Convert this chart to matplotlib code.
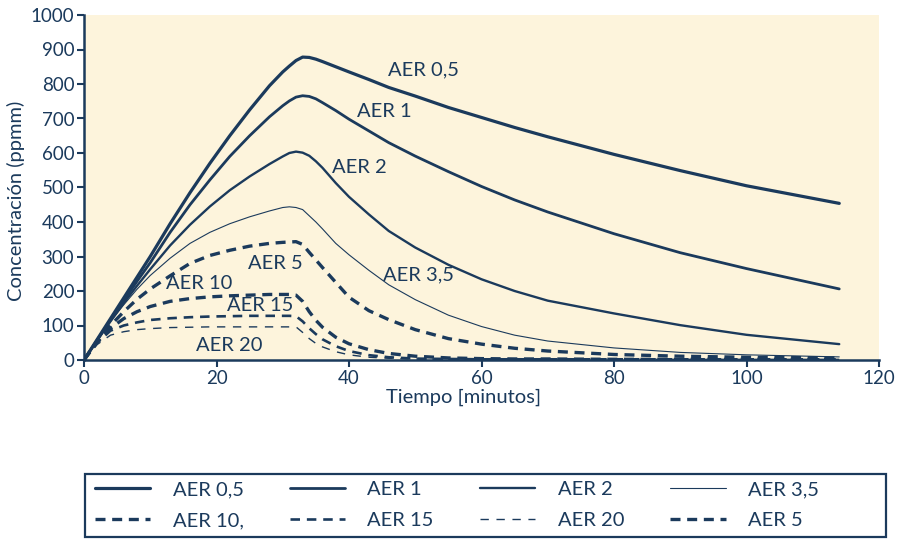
import matplotlib
matplotlib.use("Agg")
import matplotlib.pyplot as plt
from matplotlib.patches import Rectangle

plt.rcParams['font.family'] = ['Lato', 'DejaVu Sans']

NAVY = '#1B3A5C'
CREAM = '#FDF4DC'

# Time axis (minutes)
t = [0, 2, 4, 6, 8, 10, 13, 16, 19, 22, 25, 28, 30, 31, 32, 33, 34, 35, 36,
     38, 40, 43, 46, 50, 55, 60, 65, 70, 80, 90, 100, 114]

# Concentration (ppmm) for each air exchange rate
aer_05 = [0, 60, 120, 180, 240, 300, 395, 485, 570, 650, 725, 795, 835, 852, 868, 878,
          877, 872, 865, 850, 835, 813, 790, 765, 732, 703, 674, 647, 596, 549, 505, 454]
aer_1 = [0, 58, 116, 172, 228, 282, 370, 450, 522, 590, 650, 705, 737, 751, 762, 766,
         764, 757, 746, 723, 698, 664, 630, 591, 546, 503, 464, 429, 366, 311, 265, 206]
aer_2 = [0, 57, 112, 165, 215, 263, 332, 392, 445, 492, 532, 568, 590, 600, 604, 601,
         592, 576, 557, 513, 473, 422, 374, 326, 276, 234, 200, 172, 135, 101, 73, 46]
aer_35 = [0, 58, 112, 160, 205, 245, 295, 338, 370, 395, 415, 432, 442, 444, 442, 436,
          418, 400, 380, 338, 305, 260, 218, 175, 130, 97, 72, 55, 35, 22, 15, 9]
aer_5 = [0, 55, 100, 140, 176, 206, 244, 280, 303, 318, 330, 338, 341, 342, 343, 335,
         312, 290, 268, 225, 182, 143, 117, 88, 62, 46, 34, 26, 16, 11, 8, 6]
aer_10 = [0, 52, 92, 120, 140, 155, 170, 178, 183, 186, 188, 190, 190, 190, 188, 170,
          140, 115, 95, 66, 47, 30, 19, 11, 6, 4, 3, 3, 2, 2, 2, 2]
aer_15 = [0, 50, 85, 100, 109, 116, 121, 124, 126, 127, 128, 128, 128, 128, 127, 112,
          92, 75, 60, 40, 26, 14, 8, 4, 3, 2, 2, 2, 2, 2, 2, 2]
aer_20 = [0, 45, 72, 82, 88, 91, 94, 95, 96, 96, 96, 96, 96, 96, 96, 80,
          62, 48, 38, 24, 15, 8, 5, 3, 2, 2, 2, 2, 2, 2, 2, 2]

series = [
    ("AER 0,5", aer_05, dict(lw=2.3, ls='-')),
    ("AER 1", aer_1, dict(lw=2.0, ls='-')),
    ("AER 2", aer_2, dict(lw=1.7, ls='-')),
    ("AER 3,5", aer_35, dict(lw=0.8, ls='-')),
    ("AER 10,", aer_10, dict(lw=2.4, dashes=(3.0, 2.0))),
    ("AER 15", aer_15, dict(lw=1.9, dashes=(3.6, 2.6))),
    ("AER 20", aer_20, dict(lw=1.0, dashes=(6.0, 5.5))),
    ("AER 5", aer_5, dict(lw=2.4, dashes=(3.0, 2.0))),
]

# Curve labels: (text, t, concentration)
curve_labels = [
    ("AER 0,5", 45.9, 841),
    ("AER 1", 41.2, 719),
    ("AER 2", 37.4, 557),
    ("AER 3,5", 45.1, 246),
    ("AER 5", 24.8, 281),
    ("AER 10", 12.4, 223),
    ("AER 15", 21.6, 159),
    ("AER 20", 16.9, 43),
]

fig = plt.figure(figsize=(9, 5.41), dpi=100)
ax = fig.add_axes([84 / 900, 1 - 360 / 541, 795 / 900, 345 / 541])
ax.set_facecolor(CREAM)

handles = {}
for name, vals, style in series:
    line, = ax.plot(t, vals, color=NAVY, label=name, solid_capstyle='round', **style)
    handles[name] = line

for txt, x, y in curve_labels:
    ax.text(x, y, txt, color=NAVY, fontsize=14.5, ha='left', va='center')

ax.set_xlim(0, 120)
ax.set_ylim(0, 1000)
ax.set_xticks(range(0, 121, 20))
ax.set_yticks(range(0, 1001, 100))
for side in ('top', 'right'):
    ax.spines[side].set_visible(False)
for side in ('left', 'bottom'):
    ax.spines[side].set_color(NAVY)
    ax.spines[side].set_linewidth(1.8)
ax.tick_params(direction='out', length=5, width=1.5, color=NAVY,
               labelcolor=NAVY, labelsize=13.5, pad=2)

ax.set_xlabel("Tiempo [minutos]", color=NAVY, fontsize=14.5)
ax.xaxis.set_label_coords(0.478, -0.082)
ax.set_ylabel("Concentración (ppmm)", color=NAVY, fontsize=14.5, va='center')
ax.yaxis.set_label_coords(-0.086, 0.46)

# Legend laid out row by row (matplotlib fills columns first)
order = ["AER 0,5", "AER 10,", "AER 1", "AER 15", "AER 2", "AER 20", "AER 3,5", "AER 5"]
leg = fig.legend([handles[k] for k in order], order, loc='center left',
                 bbox_to_anchor=(95 / 900, 1 - 505 / 541),
                 ncol=4, fontsize=14.5, handlelength=2.75, handletextpad=1.1,
                 labelspacing=0.68, columnspacing=2.3, borderpad=0,
                 borderaxespad=0, frameon=False)
for txt in leg.get_texts():
    txt.set_color(NAVY)

# Box around the legend
fig.patches.append(Rectangle((85 / 900, 1 - 537 / 541), 801 / 900, 63 / 541,
                             transform=fig.transFigure, fill=False,
                             edgecolor=NAVY, linewidth=1.6))

fig.savefig("out.png", dpi=100)
